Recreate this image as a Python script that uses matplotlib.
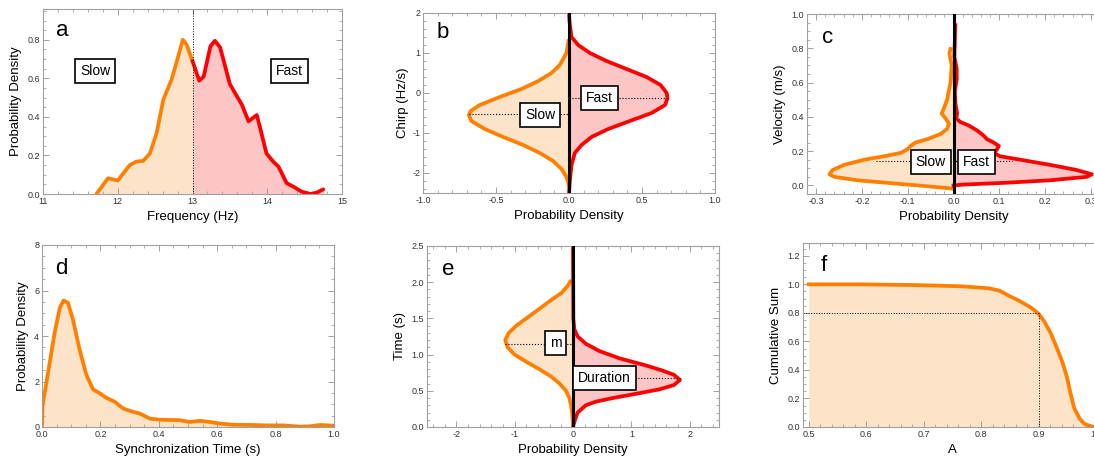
import numpy as np
import matplotlib
matplotlib.use("Agg")
from matplotlib import pyplot as plt
from matplotlib.ticker import MultipleLocator, FormatStrFormatter

plt.rcParams['font.family'] = ['Liberation Sans', 'DejaVu Sans']

ORANGE = '#ff8000'
RED = '#ff0000'
FILL_O = '#fde3c8'
FILL_R = '#fdc6c6'

# ---- a: frequency density, split at 13 Hz
freq_slow = [11.715, 11.87, 12.0, 12.16, 12.25, 12.34, 12.43, 12.52, 12.61, 12.72, 12.81, 12.87, 12.92, 13.0]
dens_slow = [0.0, 0.082, 0.07, 0.15, 0.168, 0.172, 0.21, 0.316, 0.49, 0.594, 0.715, 0.80, 0.776, 0.69]
freq_fast = [13.0, 13.09, 13.15, 13.24, 13.30, 13.37, 13.50, 13.59, 13.66, 13.75, 13.86, 13.9, 13.99,
             14.08, 14.15, 14.26, 14.35, 14.46, 14.58, 14.66, 14.75]
dens_fast = [0.69, 0.588, 0.61, 0.767, 0.795, 0.76, 0.57, 0.51, 0.464, 0.377, 0.41, 0.35, 0.21,
             0.168, 0.142, 0.056, 0.038, 0.012, 0.0, 0.007, 0.024]

# ---- b: chirp
chirp_slow = [1.3, 1.0, 0.7, 0.5, 0.3, 0.1, -0.1, -0.3, -0.45, -0.55, -0.7, -0.9, -1.1, -1.3, -1.5, -1.7, -1.9, -2.1, -2.3]
pd_chirp_slow = [-0.003, -0.017, -0.063, -0.12, -0.21, -0.326, -0.474, -0.611, -0.673, -0.686, -0.669,
                 -0.577, -0.451, -0.314, -0.2, -0.109, -0.051, -0.017, 0.0]
chirp_fast = [2.0, 1.8, 1.4, 1.2, 1.0, 0.8, 0.6, 0.4, 0.2, 0.0, -0.13, -0.3, -0.5, -0.7, -0.9, -1.1, -1.3, -1.5, -1.8, -2.2, -2.5]
pd_chirp_fast = [0.0, 0.003, 0.017, 0.063, 0.143, 0.257, 0.394, 0.531, 0.627, 0.669, 0.675, 0.658, 0.566,
                 0.417, 0.269, 0.154, 0.086, 0.04, 0.017, 0.006, 0.0]
chirp_median_slow = -0.53
chirp_median_fast = -0.13

# ---- c: velocity
vel_slow = [0.796, 0.77, 0.7, 0.6, 0.5, 0.45, 0.42, 0.39, 0.36, 0.33, 0.30, 0.27, 0.25, 0.23, 0.21, 0.19,
            0.17, 0.15, 0.12, 0.09, 0.065, 0.05, 0.03, 0.015, 0.0, -0.015, -0.02]
pd_vel_slow = [-0.0065, -0.009, -0.004, -0.0065, -0.014, -0.021, -0.026, -0.017, -0.010, -0.014, -0.028,
               -0.057, -0.083, -0.094, -0.101, -0.115, -0.152, -0.195, -0.239, -0.264, -0.271, -0.26,
               -0.21, -0.144, -0.079, -0.014, 0.0]
vel_fast = [0.935, 0.85, 0.75, 0.68, 0.62, 0.55, 0.48, 0.42, 0.39, 0.37, 0.35, 0.32, 0.29, 0.27, 0.25, 0.23,
            0.21, 0.19, 0.17, 0.15, 0.12, 0.09, 0.065, 0.05, 0.03, 0.015, 0.005, 0.0]
pd_vel_fast = [0.004, 0.003, 0.002, 0.007, 0.007, 0.003, 0.004, 0.008, 0.006, 0.015, 0.033, 0.052, 0.066,
               0.073, 0.088, 0.099, 0.095, 0.088, 0.102, 0.146, 0.211, 0.269, 0.302, 0.291, 0.211, 0.11,
               0.022, 0.0]
vel_median = 0.14

# ---- d: synchronization time
sync_t = [0.0, 0.002, 0.009, 0.026, 0.043, 0.061, 0.074, 0.089, 0.106, 0.129, 0.152, 0.175, 0.198, 0.221,
          0.249, 0.278, 0.306, 0.335, 0.369, 0.403, 0.472, 0.506, 0.541, 0.575, 0.609, 0.655, 0.712,
          0.769, 0.826, 0.883, 0.918, 0.952, 0.998]
sync_pd = [0.0, 0.96, 1.48, 2.8, 4.13, 5.24, 5.56, 5.46, 4.72, 3.39, 2.29, 1.65, 1.48, 1.28, 1.11, 0.81,
           0.69, 0.59, 0.37, 0.32, 0.30, 0.22, 0.27, 0.22, 0.15, 0.10, 0.09, 0.07, 0.07, 0.015, 0.03, 0.09, 0.06]

# ---- e: time
time_m = [2.01, 1.95, 1.85, 1.75, 1.6, 1.5, 1.4, 1.3, 1.2, 1.1, 1.0, 0.9, 0.8, 0.7, 0.6, 0.5, 0.4, 0.3, 0.2, 0.05]
pd_m = [-0.046, -0.09, -0.2, -0.38, -0.63, -0.80, -0.97, -1.10, -1.16, -1.12, -1.0, -0.80, -0.58, -0.38,
        -0.23, -0.12, -0.063, -0.034, -0.017, 0.0]
time_dur = [2.5, 1.5, 1.35, 1.25, 1.15, 1.05, 0.95, 0.85, 0.78, 0.72, 0.65, 0.58, 0.52, 0.45, 0.4, 0.35,
            0.3, 0.2, 0.1, 0.0]
pd_dur = [0.0, 0.006, 0.023, 0.08, 0.22, 0.45, 0.79, 1.25, 1.53, 1.73, 1.83, 1.73, 1.48, 1.02, 0.68, 0.39,
          0.22, 0.08, 0.034, 0.0]
time_median_m = 1.15
time_median_dur = 0.68

# ---- f: cumulative sum
a_val = [0.5, 0.594, 0.687, 0.768, 0.814, 0.832, 0.849, 0.866, 0.884, 0.892, 0.9, 0.910, 0.921, 0.933,
         0.942, 0.949, 0.956, 0.962, 0.971, 0.979, 0.991, 0.997]
cum_sum = [1.0, 1.0, 0.995, 0.986, 0.972, 0.955, 0.918, 0.885, 0.843, 0.82, 0.792, 0.738, 0.656, 0.539,
           0.445, 0.351, 0.222, 0.129, 0.059, 0.023, 0.005, 0.0]

W, H = 1094, 459
fig = plt.figure(figsize=(W / 100, H / 100), dpi=100)


def px_axes(l, r, t, b):
    return fig.add_axes([l / W, 1 - b / H, (r - l) / W, (b - t) / H])


def style(ax, xmaj, xmin, ymaj, ymin, xfmt, yfmt):
    for s in ax.spines.values():
        s.set_color('#a0a0a0')
        s.set_linewidth(0.8)
    ax.xaxis.set_major_locator(MultipleLocator(xmaj))
    ax.xaxis.set_minor_locator(MultipleLocator(xmin))
    ax.yaxis.set_major_locator(MultipleLocator(ymaj))
    ax.yaxis.set_minor_locator(MultipleLocator(ymin))
    ax.xaxis.set_major_formatter(FormatStrFormatter(xfmt))
    ax.yaxis.set_major_formatter(FormatStrFormatter(yfmt))
    ax.tick_params(which='both', direction='in', top=True, right=True, colors='#a0a0a0',
                   labelcolor='#333333', labelsize=6.5, pad=2)
    ax.tick_params(which='major', length=4, width=0.7)
    ax.tick_params(which='minor', length=2, width=0.6)


def letter(ax, s, x, y):
    ax.text(x, y, s, transform=ax.transAxes, fontsize=16, ha='left', va='center')


def box(ax, x, y, s):
    ax.text(x, y, s, ha='center', va='center', fontsize=10, zorder=6,
            bbox=dict(boxstyle='square,pad=0.35', fc='white', ec='black', lw=1.2))


LW = 2.7

# a
ax = px_axes(43, 342, 9, 194)
ax.fill_between(freq_slow, dens_slow, 0, color=FILL_O, lw=0)
ax.fill_between(freq_fast, dens_fast, 0, color=FILL_R, lw=0)
ax.plot(freq_slow, dens_slow, color=ORANGE, lw=LW, solid_capstyle='round')
ax.plot(freq_fast, dens_fast, color=RED, lw=LW, solid_capstyle='round')
ax.axvline(13, color='black', lw=0.7, ls=':')
ax.set_xlim(11, 15)
ax.set_ylim(0, 0.96)
style(ax, 1, 0.2, 0.2, 0.05, '%d', '%.1f')
ax.set_xlabel('Frequency (Hz)', fontsize=9.5, labelpad=4)
ax.set_ylabel('Probability Density', fontsize=9.5, labelpad=4)
box(ax, 11.70, 0.64, 'Slow')
box(ax, 14.30, 0.64, 'Fast')
letter(ax, 'a', 0.045, 0.885)

# b
ax = px_axes(423, 715, 13, 193)
ax.fill_betweenx(chirp_slow, pd_chirp_slow, 0, color=FILL_O, lw=0)
ax.fill_betweenx(chirp_fast, pd_chirp_fast, 0, color=FILL_R, lw=0)
ax.plot(pd_chirp_slow, chirp_slow, color=ORANGE, lw=LW)
ax.plot(pd_chirp_fast, chirp_fast, color=RED, lw=LW)
ax.plot([min(pd_chirp_slow), 0], [chirp_median_slow] * 2, color='black', lw=0.8, ls=':')
ax.plot([0, max(pd_chirp_fast)], [chirp_median_fast] * 2, color='black', lw=0.8, ls=':')
ax.axvline(0, color='black', lw=2.2, zorder=5)
ax.set_xlim(-1, 1)
ax.set_ylim(-2.5, 2)
style(ax, 0.5, 0.1, 1, 0.2, '%.1f', '%d')
ax.set_xlabel('Probability Density', fontsize=9.5, labelpad=4)
ax.set_ylabel('Chirp (Hz/s)', fontsize=9.5, labelpad=2)
box(ax, -0.196, -0.55, 'Slow')
box(ax, 0.207, -0.13, 'Fast')
letter(ax, 'b', 0.045, 0.89)

# c
ax = px_axes(807, 1100, 14, 194)
ax.fill_betweenx(vel_slow, pd_vel_slow, 0, color=FILL_O, lw=0)
ax.fill_betweenx(vel_fast, pd_vel_fast, 0, color=FILL_R, lw=0)
ax.plot(pd_vel_slow, vel_slow, color=ORANGE, lw=LW)
ax.plot(pd_vel_fast, vel_fast, color=RED, lw=LW)
ax.plot([-0.17, 0.128], [vel_median] * 2, color='black', lw=0.8, ls=':')
ax.axvline(0, color='black', lw=2.2, zorder=5)
ax.set_xlim(-0.32, 0.32)
ax.set_ylim(-0.05, 1.0)
style(ax, 0.1, 0.02, 0.2, 0.05, '%.1f', '%.1f')
ax.set_xlabel('Probability Density', fontsize=9.5, labelpad=4)
ax.set_ylabel('Velocity (m/s)', fontsize=9.5, labelpad=4)
box(ax, -0.05, 0.136, 'Slow')
box(ax, 0.05, 0.136, 'Fast')
letter(ax, 'c', 0.05, 0.87)

# d
ax = px_axes(42, 334, 245, 427)
ax.fill_between(sync_t, sync_pd, 0, color=FILL_O, lw=0)
ax.plot(sync_t, sync_pd, color=ORANGE, lw=LW)
ax.set_xlim(0, 1)
ax.set_ylim(0, 8)
style(ax, 0.2, 0.05, 2, 0.5, '%.1f', '%d')
ax.set_xlabel('Synchronization Time (s)', fontsize=9.5, labelpad=4)
ax.set_ylabel('Probability Density', fontsize=9.5, labelpad=4)
letter(ax, 'd', 0.045, 0.87)

# e
ax = px_axes(427, 719, 246, 427)
ax.fill_betweenx(time_m, pd_m, 0, color=FILL_O, lw=0)
ax.fill_betweenx(time_dur, pd_dur, 0, color=FILL_R, lw=0)
ax.plot(pd_m, time_m, color=ORANGE, lw=LW)
ax.plot(pd_dur, time_dur, color=RED, lw=LW)
ax.plot([min(pd_m), 0], [time_median_m] * 2, color='black', lw=0.8, ls=':')
ax.plot([0, max(pd_dur)], [time_median_dur] * 2, color='black', lw=0.8, ls=':')
ax.axvline(0, color='black', lw=2.2, zorder=5)
ax.set_xlim(-2.5, 2.5)
ax.set_ylim(0, 2.5)
style(ax, 1, 0.2, 0.5, 0.1, '%d', '%.1f')
ax.set_xlabel('Probability Density', fontsize=9.5, labelpad=4)
ax.set_ylabel('Time (s)', fontsize=9.5, labelpad=4)
box(ax, -0.30, 1.16, 'm')
box(ax, 0.54, 0.68, 'Duration')
letter(ax, 'e', 0.05, 0.87)

# f
ax = px_axes(803, 1102, 243, 427)
ax.fill_between(a_val, cum_sum, 0, color=FILL_O, lw=0)
ax.plot(a_val, cum_sum, color=ORANGE, lw=LW)
ax.plot([0.49, 0.9], [0.8, 0.8], color='black', lw=0.7, ls=':')
ax.plot([0.9, 0.9], [0, 0.8], color='black', lw=0.7, ls=':')
ax.set_xlim(0.49, 1.01)
ax.set_ylim(0, 1.29)
style(ax, 0.1, 0.02, 0.2, 0.05, '%.1f', '%.1f')
ax.set_xlabel('A', fontsize=9.5, labelpad=4)
ax.set_ylabel('Cumulative Sum', fontsize=9.5, labelpad=4)
letter(ax, 'f', 0.06, 0.88)

fig.savefig('out.png', dpi=100)
